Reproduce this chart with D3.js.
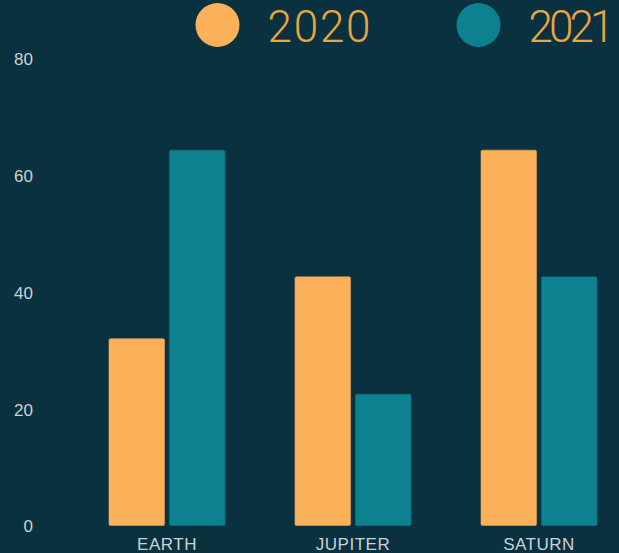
<!DOCTYPE html>
<meta charset="utf-8">
<style>
html, body {
  margin: 0;
  padding: 0;
  background: #0a3140;
}
svg { display: block; }
.tick text {
  fill: #cdd2d5;
  font-family: "Liberation Sans", Arial, sans-serif;
  font-size: 17px;
}
</style>
<body>
<script src="https://d3js.org/d3.v7.min.js"></script>
<script>

var planets = ["EARTH", "JUPITER", "SATURN"];
var years = ["2020", "2021"];
var values2020 = [32, 42.6, 64.3];
var values2021 = [64.3, 22.5, 42.6];
var yTicks = [0, 20, 40, 60, 80];

var width = 619,
    height = 553;

var colors = {"2020": "#fbb15a", "2021": "#0d818f"};

var svg = d3.select("body").append("svg")
    .attr("width", width)
    .attr("height", height)
    .style("background-color", "#0a3140");

var x0 = d3.scaleBand()
    .domain(planets)
    .range([74, 632])
    .paddingInner(0.376)
    .paddingOuter(0.188);

var x1 = d3.scaleBand()
    .domain(years)
    .range([0, x0.bandwidth()])
    .paddingInner(0.08);

var y = d3.scaleLinear()
    .domain([0, 80])
    .range([525.5, 58.5]);

var rows = planets.map(function(p, i) {
  return {planet: p, "2020": values2020[i], "2021": values2021[i]};
});

// y axis labels only, no line
var yAxis = svg.append("g")
    .attr("transform", "translate(33,1)")
    .call(d3.axisLeft(y).tickValues(yTicks).tickSize(0).tickPadding(0));
yAxis.select(".domain").remove();

// x axis labels
var xAxis = svg.append("g")
    .attr("transform", "translate(0,532)")
    .call(d3.axisBottom(x0).tickSize(0).tickPadding(6));
xAxis.select(".domain").remove();
xAxis.selectAll("text").style("letter-spacing", "0.5px");

// bars
svg.append("g")
  .selectAll("g")
  .data(rows)
  .join("g")
    .attr("transform", function(d) { return "translate(" + x0(d.planet) + ",0)"; })
  .selectAll("rect")
  .data(function(d) { return years.map(function(k) { return {key: k, value: d[k]}; }); })
  .join("rect")
    .attr("x", function(d) { return x1(d.key); })
    .attr("y", function(d) { return y(d.value); })
    .attr("width", x1.bandwidth())
    .attr("height", function(d) { return y(0) - y(d.value); })
    .attr("rx", 1.5)
    .attr("fill", function(d) { return colors[d.key]; })
    .attr("stroke", function(d) { return d3.color(colors[d.key]).darker(0.3); })
    .attr("stroke-width", 0.6);

// legend
var legendX = [217.5, 478.5];
var legendW = [103, 86];
var legend = svg.append("g")
  .selectAll("g")
  .data(years)
  .join("g")
    .attr("transform", function(d, i) { return "translate(" + legendX[i] + ",25)"; });

legend.append("circle")
    .attr("r", 22)
    .attr("fill", function(d) { return colors[d]; });

legend.append("text")
    .attr("x", 50)
    .attr("y", 17)
    .attr("textLength", function(d, i) { return legendW[i]; })
    .attr("lengthAdjust", "spacing")
    .attr("fill", "#eaa441")
    .style("font-family", "Roboto, sans-serif")
    .style("font-weight", 300)
    .style("font-size", "44px")
    .text(function(d) { return d; });

</script>
</body>
</html>
